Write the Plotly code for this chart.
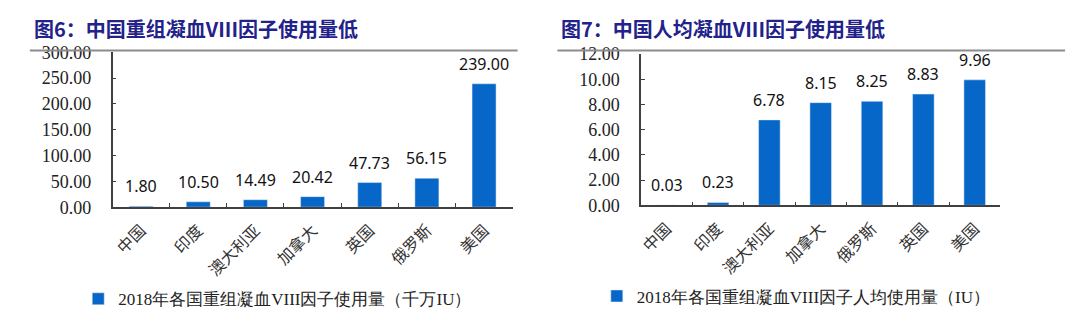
import plotly.graph_objects as go

# ---- data ----
cats_left = ["中国", "印度", "澳大利亚", "加拿大", "英国", "俄罗斯", "美国"]
vals_left = [1.80, 10.50, 14.49, 20.42, 47.73, 56.15, 239.00]
name_left = "2018年各国重组凝血VIII因子使用量（千万IU）"
title_left = "图6：中国重组凝血VIII因子使用量低"
yticks_left = [0, 50, 100, 150, 200, 250, 300]

cats_right = ["中国", "印度", "澳大利亚", "加拿大", "俄罗斯", "英国", "美国"]
vals_right = [0.03, 0.23, 6.78, 8.15, 8.25, 8.83, 9.96]
name_right = "2018年各国重组凝血VIII因子人均使用量（IU）"
title_right = "图7：中国人均凝血VIII因子使用量低"
yticks_right = [0, 2, 4, 6, 8, 10, 12]

BAR = "#0767C8"
AX = "#404040"
CJK = "Noto Sans CJK SC"
SERIF = "Liberation Serif"
NAVY = "#22228A"

fig = go.Figure()
fig.add_trace(go.Bar(x=cats_left, y=vals_left, name=name_left, marker_color=BAR,
                     xaxis="x", yaxis="y", legend="legend", width=0.42))
fig.add_trace(go.Bar(x=cats_right, y=vals_right, name=name_right, marker_color=BAR,
                     xaxis="x2", yaxis="y2", legend="legend2", width=0.42))

annotations = []
for c, v in zip(cats_left, vals_left):
    annotations.append(dict(x=c, y=v, xref="x", yref="y", text=f"{v:.2f}", showarrow=False,
                            yanchor="bottom", yshift=7,
                            font=dict(family="Noto Sans", size=16, color="#111111")))
for c, v in zip(cats_right, vals_right):
    annotations.append(dict(x=c, y=v, xref="x2", yref="y2", text=f"{v:.2f}", showarrow=False,
                            yanchor="bottom", yshift=7,
                            font=dict(family="Noto Sans", size=16, color="#111111")))
annotations.append(dict(x=27 / 1080, y=1 - 20 / 328, xref="paper", yref="paper", text=f"<b>{title_left}</b>",
                        showarrow=False, xanchor="left", yanchor="middle",
                        font=dict(family=CJK, size=20, color=NAVY)))
annotations.append(dict(x=557 / 1080, y=1 - 20 / 328, xref="paper", yref="paper", text=f"<b>{title_right}</b>",
                        showarrow=False, xanchor="left", yanchor="middle",
                        font=dict(family=CJK, size=20, color=NAVY)))

shapes = [
    dict(type="line", xref="paper", yref="paper", x0=25 / 1080, x1=515 / 1080,
         y0=1 - 43 / 328, y1=1 - 43 / 328, line=dict(color="#8c8c8c", width=2)),
    dict(type="line", xref="paper", yref="paper", x0=555 / 1080, x1=1065 / 1080,
         y0=1 - 43 / 328, y1=1 - 43 / 328, line=dict(color="#8c8c8c", width=2)),
]

xcommon = dict(showline=True, linecolor=AX, linewidth=1.5, ticks="inside", ticklen=4,
               tickcolor=AX, tickson="boundaries", tickangle=-45, showgrid=False,
               ticklabelstandoff=6,
               tickfont=dict(family=CJK, size=16, color="#333333"), fixedrange=True)
ycommon = dict(showline=True, linecolor=AX, linewidth=1.5, ticks="inside", ticklen=4,
               tickcolor=AX, showgrid=False, zeroline=False, ticklabelstandoff=16,
               tickfont=dict(family=SERIF, size=18, color="#222222"), fixedrange=True)

fig.update_layout(
    width=1080, height=328,
    margin=dict(l=0, r=0, t=0, b=0),
    paper_bgcolor="white", plot_bgcolor="white",
    bargap=0.58,
    xaxis=dict(domain=[108 / 1080, 510 / 1080], anchor="y", **xcommon),
    yaxis=dict(domain=[1 - 210 / 328, 1 - 45 / 328], anchor="x", range=[0, 300],
               tickvals=yticks_left, ticktext=[f"{t:.2f}" for t in yticks_left], **ycommon),
    xaxis2=dict(domain=[639 / 1080, 1000 / 1080], anchor="y2", **xcommon),
    yaxis2=dict(domain=[1 - 208 / 328, 1 - 47 / 328], anchor="x2", range=[0, 12],
                tickvals=yticks_right, ticktext=[f"{t:.2f}" for t in yticks_right], **ycommon),
    legend=dict(x=274 / 1080, y=1 - 308 / 328, xanchor="center", yanchor="middle",
                orientation="h", itemwidth=30, font=dict(family=SERIF, size=17, color="#222222"),
                bgcolor="rgba(0,0,0,0)"),
    legend2=dict(x=795 / 1080, y=1 - 305 / 328, xanchor="center", yanchor="middle",
                 orientation="h", itemwidth=30, font=dict(family=SERIF, size=17, color="#222222"),
                 bgcolor="rgba(0,0,0,0)"),
    showlegend=True,
    annotations=annotations,
    shapes=shapes,
)

fig.write_html("out.html")
